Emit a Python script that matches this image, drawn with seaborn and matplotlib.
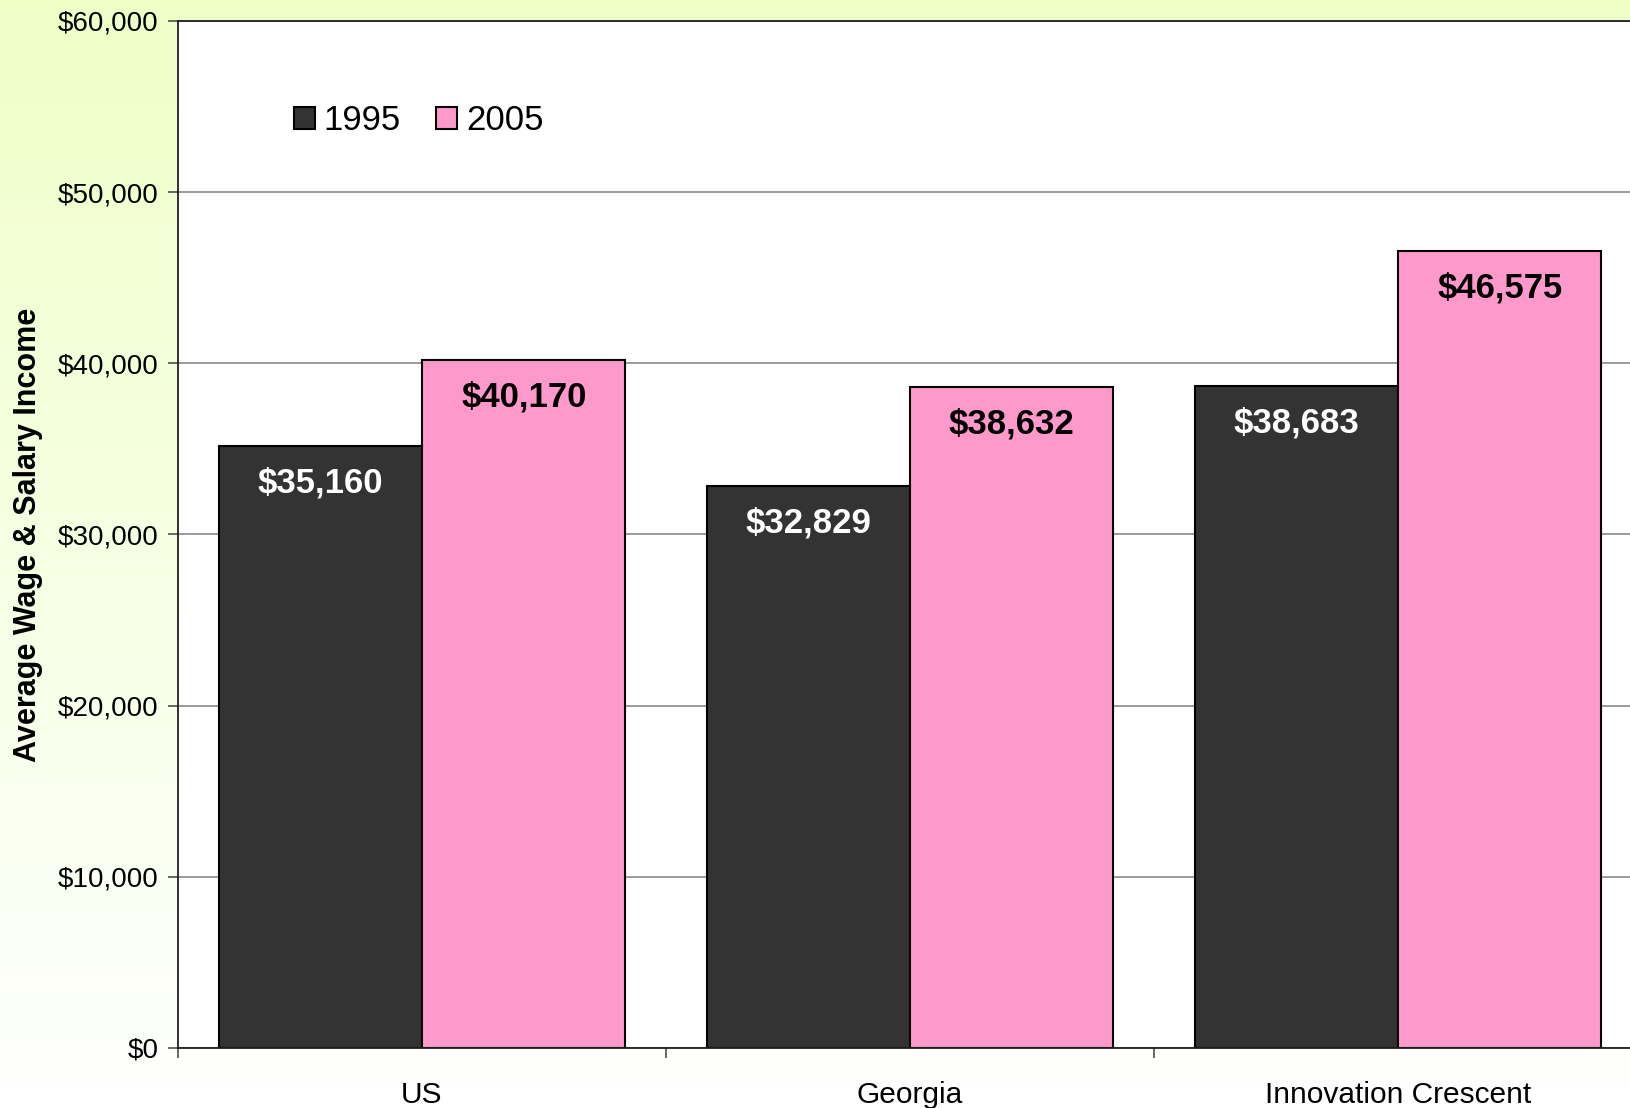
import numpy as np
import pandas as pd
import matplotlib
import matplotlib.pyplot as plt
import seaborn as sns
from matplotlib.patches import Patch
from matplotlib.ticker import FuncFormatter, MultipleLocator

matplotlib.use('Agg')

# Chart data
regions = ["US", "Georgia", "Innovation Crescent"]
years = ["1995", "2005"]
income_1995 = [35160, 32829, 38683]
income_2005 = [40170, 38632, 46575]

colors = {"1995": "#333333", "2005": "#FF99CC"}
label_colors = {"1995": "white", "2005": "black"}

df = pd.DataFrame({
    "region": regions * 2,
    "year": [years[0]] * 3 + [years[1]] * 3,
    "income": income_1995 + income_2005,
})

sns.set_theme(style="white")
plt.rcParams['font.family'] = ['Liberation Sans', 'DejaVu Sans']

fig = plt.figure(figsize=(16.31, 11.08), dpi=100)

# Background gradient (light yellow-green to white)
bg = fig.add_axes([0, 0, 1, 1], zorder=-10)
top = np.array([0.935, 1.0, 0.78])
bottom = np.array([1.0, 1.0, 1.0])
t = np.linspace(0, 1, 256)[:, None]
grad = (top * (1 - t) + bottom * t)[:, None, :]
bg.imshow(grad, aspect='auto', extent=[0, 1, 0, 1])
bg.axis('off')

ax = fig.add_axes([178 / 1631, 60 / 1108, 1464 / 1631, 1027 / 1108], zorder=1)
ax.set_facecolor('white')

sns.barplot(data=df, x="region", y="income", hue="year", order=regions,
            hue_order=years, palette=colors, saturation=1, width=0.834, gap=0,
            edgecolor="black", linewidth=1.5, errorbar=None, ax=ax)

# value labels inside the bars
for year, container in zip(years, ax.containers):
    for bar in container:
        h = bar.get_height()
        ax.annotate(f"${h:,.0f}", xy=(bar.get_x() + bar.get_width() / 2, h),
                    xytext=(0, -26.5), textcoords='offset points',
                    ha='center', va='center', fontsize=25, fontweight='bold',
                    color=label_colors[year])

ax.set_ylim(0, 60000)
ax.set_xlim(-0.5, 2.5)
ax.yaxis.set_major_locator(MultipleLocator(10000))
ax.yaxis.set_major_formatter(FuncFormatter(lambda v, p: f"${v:,.0f}"))
ax.set_axisbelow(True)
ax.yaxis.grid(True, color='#808080', linewidth=1.1)
ax.xaxis.grid(False)

ax.set_xlabel("")
ax.set_ylabel("Average Wage & Salary Income", fontsize=22, fontweight='bold',
              color='black')
ax.yaxis.set_label_coords(-0.0925, 0.5)

ax.tick_params(axis='y', which='major', left=True, length=7, width=1.1,
               color='#404040', pad=7, labelsize=20, labelcolor='black')
ax.tick_params(axis='x', which='major', length=0, pad=24, labelsize=21.5,
               labelcolor='black')
ax.set_xticks([-0.5, 0.5, 1.5, 2.5], minor=True)
ax.tick_params(axis='x', which='minor', bottom=True, length=7, width=1.1,
               color='#404040')

for side in ['left', 'bottom', 'top']:
    ax.spines[side].set_visible(True)
    ax.spines[side].set_color('#202020')
    ax.spines[side].set_linewidth(1.3)
ax.spines['right'].set_visible(False)

# legend
ax.get_legend().remove()
handles = [Patch(facecolor=colors[y], edgecolor='black', linewidth=1.5) for y in years]
ax.legend(handles, years, loc='center left', bbox_to_anchor=(0.079, 0.903),
          ncol=2, frameon=False, fontsize=25, handlelength=0.62,
          handleheight=0.62, handletextpad=0.25, columnspacing=1.0,
          borderpad=0, borderaxespad=0, labelcolor='black')

fig.savefig("out.png", dpi=100)
